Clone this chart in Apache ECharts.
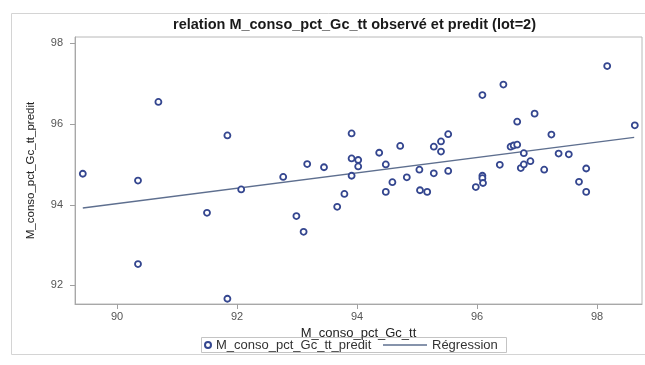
<!DOCTYPE html>
<html>
<head>
<meta charset="utf-8">
<script src="https://cdn.jsdelivr.net/npm/echarts@6/dist/echarts.min.js"></script>
<style>
html,body{margin:0;padding:0;background:#fff;}
#main{width:645px;height:365px;}
</style>
</head>
<body>
<div id="main"></div>
<script>
var xObs = [89.43,90.35,90.69,91.50,90.35,91.84,91.84,92.07,92.77,92.99,
            93.11,93.17,93.45,93.67,93.79,93.91,93.91,93.91,94.02,94.02,
            94.37,94.48,94.48,94.59,94.72,94.83,95.04,95.05,95.17,95.28,
            95.28,95.40,95.40,95.52,95.52,95.98,96.09,96.09,96.10,96.09,
            96.38,96.44,96.56,96.61,96.67,96.67,96.73,96.78,96.78,96.89,
            96.96,97.12,97.24,97.36,97.53,97.70,97.82,97.82,98.17,98.63];
var yObs = [94.77,94.60,96.55,93.80,92.53,95.72,91.67,94.38,94.69,93.72,
            93.33,95.01,94.93,93.95,94.27,95.77,95.15,94.72,95.11,94.95,
            95.29,95.00,94.32,94.56,95.46,94.68,94.87,94.36,94.32,95.44,
            94.78,95.57,95.32,95.75,94.84,94.44,94.72,94.66,94.54,96.72,
            94.99,96.98,95.44,95.47,95.49,96.06,94.91,95.28,95.00,95.08,
            96.26,94.87,95.74,95.27,95.25,94.57,94.90,94.32,97.44,95.97];
var regX = [89.43, 98.62];
var regY = [93.92, 95.67];
var xTicks = [90, 92, 94, 96, 98];
var yTicks = [92, 94, 96, 98];

var chart = echarts.init(document.getElementById('main'), null, {renderer:'canvas'});
var FONT = '"Liberation Sans", Arial, sans-serif';
var option = {
  animation: false,
  backgroundColor: '#ffffff',
  title: {
    text: 'relation M_conso_pct_Gc_tt observé et predit (lot=2)',
    left: 173, top: 17, padding: 0,
    textStyle: {fontFamily: FONT, fontSize: 14.5, fontWeight: 'bold', color: '#1a1a1a'}
  },
  graphic: [
    {type:'rect', shape:{x:11.5, y:13.5, width:640, height:341}, style:{fill:'none', stroke:'#d4d4d4', lineWidth:1}, silent:true, z:-1},
    {type:'rect', shape:{x:201.5, y:337.5, width:305, height:15}, style:{fill:'#fff', stroke:'#c4c4c4', lineWidth:1}, silent:true, z:0}
  ],
  grid: {left: 75, right: 3, top: 37, bottom: 61, show: true, borderColor: '#b8b8b8', borderWidth: 1, containLabel: false},
  xAxis: {
    type: 'value', min: 89.3, max: 98.75,
    name: 'M_conso_pct_Gc_tt', nameLocation: 'middle', nameGap: 16,
    nameTextStyle: {fontFamily: FONT, fontSize: 13, color: '#222'},
    axisLine: {show: true, lineStyle: {color: '#a8a8a8'}},
    axisTick: {show: true, length: 5, lineStyle: {color: '#a0a0a0'}, customValues: xTicks},
    axisLabel: {customValues: xTicks, margin: 7, fontFamily: FONT, fontSize: 11, color: '#555'},
    splitLine: {show: false}
  },
  yAxis: {
    type: 'value', min: 91.54, max: 98.16,
    name: 'M_conso_pct_Gc_tt_predit', nameLocation: 'middle', nameGap: 38,
    nameTextStyle: {fontFamily: FONT, fontSize: 11.5, color: '#222'},
    axisLine: {show: true, lineStyle: {color: '#a8a8a8'}},
    axisTick: {show: true, length: 5, lineStyle: {color: '#a0a0a0'}, customValues: yTicks},
    axisLabel: {customValues: yTicks, margin: 12, fontFamily: FONT, fontSize: 11, color: '#555'},
    splitLine: {show: false}
  },
  legend: [
    {data: [{name:'M_conso_pct_Gc_tt_predit', icon:'circle'}], left: 204, top: 338.5, padding: 0,
     itemWidth: 6, itemHeight: 6, itemGap: 0,
     textStyle: {fontFamily: FONT, fontSize: 13, color: '#333'}},
    {data: [{name:'Régression', icon:'rect', itemStyle:{color:'#5e6f8f', borderWidth:0}}], left: 383, top: 338.5, padding: 0,
     itemWidth: 44, itemHeight: 1.4, itemGap: 0,
     textStyle: {fontFamily: FONT, fontSize: 13, color: '#333'}}
  ],
  series: [
    {
      name: 'M_conso_pct_Gc_tt_predit', type: 'scatter',
      data: xObs.map(function(x, i){ return [x, yObs[i]]; }),
      symbol: 'circle', symbolSize: 6,
      itemStyle: {color: '#ffffff', borderColor: '#34468f', borderWidth: 1.8, opacity: 1},
      z: 3
    },
    {
      name: 'Régression', type: 'line',
      data: regX.map(function(x, i){ return [x, regY[i]]; }),
      symbol: 'none', lineStyle: {color: '#5e6f8f', width: 1.4},
      itemStyle: {color: '#5e6f8f'},
      z: 2
    }
  ]
};
chart.setOption(option);
</script>
</body>
</html>
